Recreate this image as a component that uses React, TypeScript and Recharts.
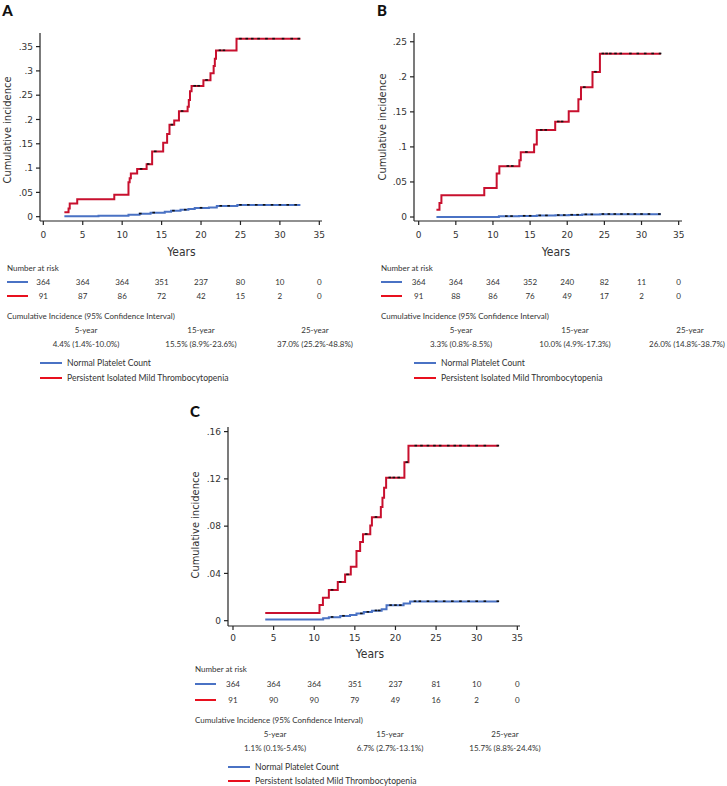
import React from "react";
import { LineChart, Line, XAxis, YAxis } from "recharts";

// shared axis ticks (years)
const yearTicks = [0, 5, 10, 15, 20, 25, 30, 35];
const ciHeads = ["5-year", "15-year", "25-year"];
const seriesNames = ["Normal Platelet Count", "Persistent Isolated Mild Thrombocytopenia"];

// Panel A
const aRedT = [2.67, 3.2, 3.35, 4.3, 9.0, 10.8, 10.95, 11.1, 11.9, 13.1, 13.8, 15.2, 15.7, 16.0, 16.6, 17.2, 18.3, 18.45, 18.6, 18.8, 20.3, 21.2, 21.6, 21.75, 21.9, 24.5, 32.6];
const aRedV = [0.009, 0.017, 0.027, 0.036, 0.045, 0.071, 0.079, 0.089, 0.098, 0.108, 0.134, 0.152, 0.17, 0.189, 0.198, 0.217, 0.226, 0.24, 0.258, 0.269, 0.281, 0.295, 0.31, 0.325, 0.342, 0.366, 0.366];
const aBlueT = [2.67, 7.0, 10.8, 12.2, 13.6, 15.4, 16.2, 17.4, 18.4, 19.2, 21.0, 22.0, 24.6, 32.6];
const aBlueV = [0.001, 0.002, 0.004, 0.006, 0.008, 0.01, 0.012, 0.014, 0.016, 0.018, 0.019, 0.022, 0.024, 0.024];
// censoring marks
const aRedCensT = [12.4, 13.3, 14.2, 16.3, 17.6, 19.2, 19.7, 20.7, 22.4, 22.9, 25.0, 25.8, 26.5, 27.3, 28.3, 29.2, 30.4, 31.5, 32.4];
const aRedCensV = [0.098, 0.108, 0.134, 0.189, 0.217, 0.269, 0.269, 0.281, 0.342, 0.342, 0.366, 0.366, 0.366, 0.366, 0.366, 0.366, 0.366, 0.366, 0.366];
const aBlueCensT = [12.3, 14.0, 16.5, 18.0, 20.0, 22.5, 23.5, 25.0, 26.0, 27.0, 28.0, 29.0, 30.0, 31.0, 32.0];
const aBlueCensV = [0.006, 0.008, 0.012, 0.014, 0.018, 0.022, 0.022, 0.024, 0.024, 0.024, 0.024, 0.024, 0.024, 0.024, 0.024];
const aYTicks = [0, 0.05, 0.1, 0.15, 0.2, 0.25, 0.3, 0.35];
const aRiskBlue = [364, 364, 364, 351, 237, 80, 10, 0];
const aRiskRed = [91, 87, 86, 72, 42, 15, 2, 0];
const aCi = ["4.4% (1.4%-10.0%)", "15.5% (8.9%-23.6%)", "37.0% (25.2%-48.8%)"];

// Panel B
const bRedT = [2.39, 2.8, 3.06, 8.83, 10.5, 10.86, 13.56, 13.74, 15.54, 15.9, 18.38, 20.2, 21.5, 21.85, 23.4, 24.4, 32.6];
const bRedV = [0.0105, 0.02, 0.031, 0.0415, 0.062, 0.0725, 0.081, 0.0925, 0.1035, 0.124, 0.136, 0.151, 0.168, 0.185, 0.207, 0.233, 0.233];
const bBlueT = [2.39, 10.8, 13.5, 15.9, 18.4, 20.2, 22.0, 24.4, 32.6];
const bBlueV = [0, 0.001, 0.0015, 0.002, 0.0025, 0.003, 0.0035, 0.004, 0.004];
const bRedCensT = [12.0, 12.6, 14.5, 16.5, 17.1, 18.8, 19.3, 22.3, 23.8, 24.8, 25.3, 25.8, 26.5, 27.2, 28.5, 29.5, 30.5, 31.5, 32.5];
const bRedCensV = [0.0725, 0.0725, 0.0925, 0.124, 0.124, 0.136, 0.136, 0.185, 0.207, 0.233, 0.233, 0.233, 0.233, 0.233, 0.233, 0.233, 0.233, 0.233, 0.233];
const bBlueCensT = [11.8, 12.5, 14.2, 15.0, 16.3, 17.2, 18.8, 19.6, 20.6, 21.4, 22.5, 23.3, 24.8, 25.6, 26.4, 27.3, 28.2, 29.1, 30.0, 31.0, 32.4];
const bBlueCensV = [0.001, 0.001, 0.0015, 0.0015, 0.002, 0.002, 0.0025, 0.0025, 0.003, 0.003, 0.0035, 0.0035, 0.004, 0.004, 0.004, 0.004, 0.004, 0.004, 0.004, 0.004, 0.004];
const bYTicks = [0, 0.05, 0.1, 0.15, 0.2, 0.25];
const bRiskBlue = [364, 364, 364, 352, 240, 82, 11, 0];
const bRiskRed = [91, 88, 86, 76, 49, 17, 2, 0];
const bCi = ["3.3% (0.8%-8.5%)", "10.0% (4.9%-17.3%)", "26.0% (14.8%-38.7%)"];

// Panel C
const cRedT = [3.97, 10.65, 11.07, 11.8, 12.9, 13.8, 14.5, 15.2, 15.65, 16.0, 16.9, 17.1, 18.2, 18.4, 18.6, 18.85, 21.1, 21.6, 32.7];
const cRedV = [0.0065, 0.0132, 0.0195, 0.026, 0.0327, 0.039, 0.0456, 0.059, 0.0665, 0.0732, 0.0806, 0.0876, 0.0963, 0.104, 0.1124, 0.121, 0.134, 0.148, 0.148];
const cBlueT = [3.97, 10.65, 11.1, 11.8, 13.2, 14.4, 15.2, 16.1, 17.1, 18.3, 18.9, 21.0, 21.8, 32.7];
const cBlueV = [0.001, 0.001, 0.002, 0.003, 0.004, 0.0048, 0.006, 0.0073, 0.0085, 0.0096, 0.013, 0.0146, 0.0163, 0.0163];
const cRedCensT = [12.2, 13.2, 14.1, 16.4, 17.6, 19.3, 19.8, 20.4, 21.4, 22.5, 23.2, 24.0, 24.8, 25.5, 26.5, 27.3, 28.0, 29.0, 30.0, 31.0, 32.6];
const cRedCensV = [0.026, 0.0327, 0.039, 0.0732, 0.0876, 0.121, 0.121, 0.121, 0.134, 0.148, 0.148, 0.148, 0.148, 0.148, 0.148, 0.148, 0.148, 0.148, 0.148, 0.148, 0.148];
const cBlueCensT = [12.2, 13.6, 15.8, 16.6, 17.6, 18.0, 19.4, 20.0, 20.6, 22.4, 23.0, 24.0, 25.0, 26.0, 27.0, 28.0, 29.0, 30.0, 31.0, 32.6];
const cBlueCensV = [0.003, 0.004, 0.006, 0.0073, 0.0085, 0.0085, 0.013, 0.013, 0.013, 0.0163, 0.0163, 0.0163, 0.0163, 0.0163, 0.0163, 0.0163, 0.0163, 0.0163, 0.0163, 0.0163];
const cYTicks = [0, 0.04, 0.08, 0.12, 0.16];
const cRiskBlue = [364, 364, 364, 351, 237, 81, 10, 0];
const cRiskRed = [91, 90, 90, 79, 49, 16, 2, 0];
const cCi = ["1.1% (0.1%-5.4%)", "6.7% (2.7%-13.1%)", "15.7% (8.8%-24.4%)"];

const RED = "#c8102e";
const LEG_RED = "#e8101e";
const BLUE = "#4a72c4";
const AXIS = "#222";
const TXT = "#333";
const NARROW = "'Liberation Sans Narrow', 'DejaVu Sans Condensed', 'Roboto', sans-serif";
const SMALL = "Lato, 'Noto Sans', sans-serif";

const zip = (ts: number[], vs: number[]) => ts.map((t, i) => ({ t, v: vs[i] }));
const fmtY = (v: number) => (v === 0 ? "0" : String(v).replace(/^0/, ""));

// small black censoring dash
const CensorMark = (props: any) => {
  const { cx, cy, index } = props;
  if (cx == null || cy == null) return <g key={index} />;
  return <rect key={index} x={cx - 1.3} y={cy - 1} width={2.6} height={1.6} fill="#111" />;
};

function T({ x, y, children, center = false, size = 8, style = {} }: any) {
  return (
    <div
      style={{
        position: "absolute", left: x, top: y, whiteSpace: "nowrap", lineHeight: 1,
        fontSize: size, color: TXT, fontFamily: SMALL,
        transform: center ? "translate(-50%, -50%)" : "translateY(-50%)",
        ...style,
      }}
    >
      {children}
    </div>
  );
}

function Swatch({ x1, x2, y, color }: any) {
  return <div style={{ position: "absolute", left: x1, top: y - 1, width: x2 - x1, height: 2, background: color }} />;
}

function Panel({ p }: any) {
  const plotLeft = p.box.left + p.margin.left + p.yW;
  const plotW = p.box.w - p.margin.left - p.margin.right - p.yW;
  const xAt = (yr: number) => plotLeft + ((yr - p.xDomain[0]) / (p.xDomain[1] - p.xDomain[0])) * plotW;
  const L = p.lay;
  return (
    <>
      <div style={{ position: "absolute", left: p.box.left, top: p.box.top }}>
        <LineChart width={p.box.w} height={p.box.h} margin={p.margin}>
          <XAxis
            type="number" dataKey="t" domain={p.xDomain} ticks={yearTicks} allowDataOverflow
            height={p.xH} tickSize={4} tickMargin={p.xTickMargin}
            stroke={AXIS} strokeWidth={1.2}
            tick={{ fill: TXT, fontSize: 9, fontFamily: "'DejaVu Sans', sans-serif" }}
          />
          <YAxis
            type="number" dataKey="v" domain={p.yDomain} ticks={p.yTicks} allowDataOverflow
            width={p.yW} tickSize={4} tickMargin={3} tickFormatter={fmtY}
            stroke={AXIS} strokeWidth={1.2}
            tick={{ fill: TXT, fontSize: 9, fontFamily: "'DejaVu Sans', sans-serif" }}
          />
          <Line data={p.blue} dataKey="v" type="stepAfter" stroke={BLUE} strokeWidth={2} dot={false} isAnimationActive={false} />
          <Line data={p.red} dataKey="v" type="stepAfter" stroke={RED} strokeWidth={2} dot={false} isAnimationActive={false} />
          <Line data={p.blueCens} dataKey="v" stroke="none" dot={CensorMark} activeDot={false} isAnimationActive={false} />
          <Line data={p.redCens} dataKey="v" stroke="none" dot={CensorMark} activeDot={false} isAnimationActive={false} />
        </LineChart>
      </div>

      <T x={p.letterPos[0]} y={p.letterPos[1]} center size={15} style={{ fontWeight: 900, color: "#111" }}>{p.letter}</T>
      <T x={p.yLabelPos[0]} y={p.yLabelPos[1]} size={11}
        style={{ fontFamily: NARROW, transform: "translate(-50%, -50%) rotate(-90deg)" }}>
        Cumulative incidence
      </T>
      <T x={p.yearsX} y={L.years} center size={12} style={{ fontFamily: NARROW }}>Years</T>

      <T x={p.leftX} y={L.nar}>Number at risk</T>
      <Swatch x1={p.leftX} x2={p.leftX + 21} y={L.row1} color={BLUE} />
      <Swatch x1={p.leftX} x2={p.leftX + 21} y={L.row2} color={LEG_RED} />
      {yearTicks.map((yr, i) => (
        <React.Fragment key={yr}>
          <T x={xAt(yr)} y={L.row1} center>{p.riskBlue[i]}</T>
          <T x={xAt(yr)} y={L.row2} center>{p.riskRed[i]}</T>
        </React.Fragment>
      ))}

      <T x={p.leftX} y={L.ciTitle}>Cumulative Incidence (95% Confidence Interval)</T>
      {ciHeads.map((h, i) => (
        <React.Fragment key={h}>
          <T x={p.ciX[i]} y={L.ciYears} center>{h}</T>
          <T x={p.ciValX[i]} y={L.ciVals} center>{p.ci[i]}</T>
        </React.Fragment>
      ))}

      <Swatch x1={p.legX} x2={p.legX + 22} y={L.leg1} color={BLUE} />
      <T x={p.legX + 27} y={L.leg1} size={8.6}>{seriesNames[0]}</T>
      <Swatch x1={p.legX} x2={p.legX + 22} y={L.leg2} color={LEG_RED} />
      <T x={p.legX + 27} y={L.leg2} size={8.6}>{seriesNames[1]}</T>
    </>
  );
}

const topLay = { years: 252, nar: 268, row1: 282, row2: 296, ciTitle: 316, ciYears: 330, ciVals: 344, leg1: 363, leg2: 378 };

const panels = [
  {
    letter: "A", letterPos: [7.5, 10], yLabelPos: [7, 130],
    box: { left: 0, top: 0, w: 360, h: 240 }, margin: { top: 33, right: 38, left: 0, bottom: 0 },
    yW: 40, xH: 19, xTickMargin: 7,
    xDomain: [-0.42, 35.34], yDomain: [-0.0089, 0.378], yTicks: aYTicks,
    red: zip(aRedT, aRedV), blue: zip(aBlueT, aBlueV),
    redCens: zip(aRedCensT, aRedCensV), blueCens: zip(aBlueCensT, aBlueCensV),
    riskBlue: aRiskBlue, riskRed: aRiskRed, ci: aCi,
    lay: topLay, yearsX: 181.5, leftX: 7, ciX: [86, 201, 315], ciValX: [86, 201, 315], legX: 40,
  },
  {
    letter: "B", letterPos: [382, 10], yLabelPos: [381.7, 127],
    box: { left: 360, top: 0, w: 367, h: 240 }, margin: { top: 33, right: 45, left: 0, bottom: 0 },
    yW: 54, xH: 19, xTickMargin: 7,
    xDomain: [-0.63, 35.45], yDomain: [-0.0057, 0.2625], yTicks: bYTicks,
    red: zip(bRedT, bRedV), blue: zip(bBlueT, bBlueV),
    redCens: zip(bRedCensT, bRedCensV), blueCens: zip(bBlueCensT, bBlueCensV),
    riskBlue: bRiskBlue, riskRed: bRiskRed, ci: bCi,
    lay: topLay, yearsX: 556, leftX: 381, ciX: [461, 575, 690], ciValX: [461, 575, 687], legX: 414,
  },
  {
    letter: "C", letterPos: [195, 411], yLabelPos: [195, 525],
    box: { left: 180, top: 400, w: 370, h: 245 }, margin: { top: 27, right: 30, left: 0, bottom: 0 },
    yW: 48, xH: 19, xTickMargin: 5,
    xDomain: [-0.615, 35.33], yDomain: [-0.0045, 0.1639], yTicks: cYTicks,
    red: zip(cRedT, cRedV), blue: zip(cBlueT, cBlueV),
    redCens: zip(cRedCensT, cRedCensV), blueCens: zip(cBlueCensT, cBlueCensV),
    riskBlue: cRiskBlue, riskRed: cRiskRed, ci: cCi,
    lay: { years: 654, nar: 669, row1: 684, row2: 700, ciTitle: 720, ciYears: 734, ciVals: 748, leg1: 767, leg2: 781 },
    yearsX: 370, leftX: 195, ciX: [275, 390, 505], ciValX: [275, 390, 505], legX: 228,
  },
];

export default function App() {
  return (
    <div style={{ position: "absolute", left: 0, top: 0, width: 727, height: 786, background: "#fff", overflow: "hidden" }}>
      {panels.map((p) => (
        <Panel key={p.letter} p={p} />
      ))}
    </div>
  );
}
